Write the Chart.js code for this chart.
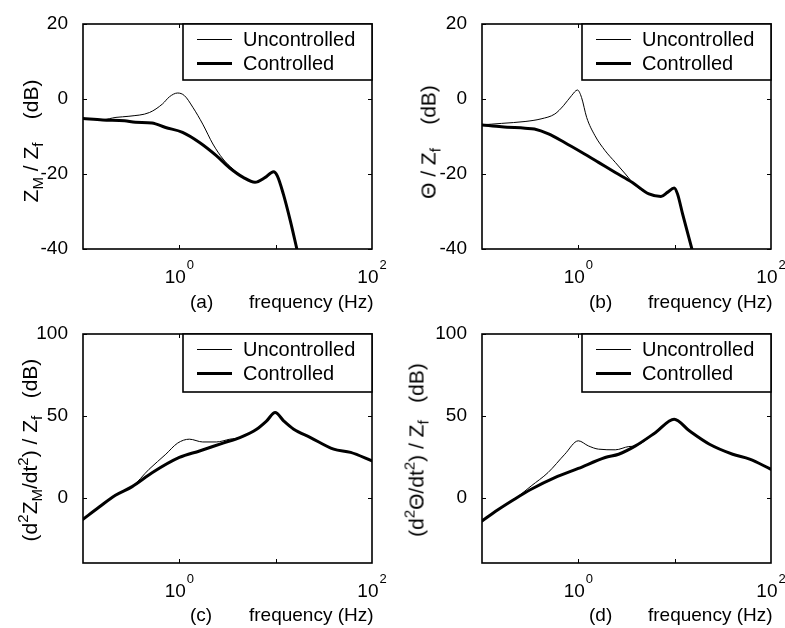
<!DOCTYPE html>
<html>
<head>
<meta charset="utf-8">
<script src="https://cdn.jsdelivr.net/npm/chart.js@4.4.1/dist/chart.umd.min.js"></script>
<style>
  body { margin: 0; background: #fff; }
  #fig { position: relative; width: 785px; height: 628px; overflow: hidden; font-family: "Liberation Sans", Arial, sans-serif; color: #000; }
  canvas { position: absolute; }
  .ylab { position: absolute; white-space: pre; font-size: 21px; line-height: 21px; transform: translate(-50%, -50%) rotate(-90deg); }
  .ylab sub { font-size: 15px; line-height: 0; vertical-align: -5px; }
  .ylab sup { font-size: 15px; line-height: 0; vertical-align: 9px; }
  .xlab { position: absolute; white-space: pre; font-size: 19px; line-height: 19px; }
</style>
</head>
<body>
<div id="fig">
  <canvas id="ca" width="392" height="314" style="left:0;top:0"></canvas>
  <canvas id="cb" width="393" height="314" style="left:392px;top:0"></canvas>
  <canvas id="cc" width="392" height="314" style="left:0;top:314px"></canvas>
  <canvas id="cd" width="393" height="314" style="left:392px;top:314px"></canvas>

  <div class="ylab" style="left:30px;top:141px">Z<sub>M</sub> / Z<sub>f</sub>    (dB)</div>
  <div class="ylab" style="left:428px;top:142px">Θ / Z<sub>f</sub>    (dB)</div>
  <div class="ylab" style="left:29px;top:450px">(d<sup>2</sup>Z<sub>M</sub>/dt<sup>2</sup>) / Z<sub>f</sub>   (dB)</div>
  <div class="ylab" style="left:416px;top:450px">(d<sup>2</sup>Θ/dt<sup>2</sup>) / Z<sub>f</sub>   (dB)</div>

  <div class="xlab" style="left:190px;top:292px">(a)</div>
  <div class="xlab" style="left:249px;top:292px">frequency (Hz)</div>
  <div class="xlab" style="left:589px;top:292px">(b)</div>
  <div class="xlab" style="left:648px;top:292px">frequency (Hz)</div>
  <div class="xlab" style="left:190px;top:605px">(c)</div>
  <div class="xlab" style="left:249px;top:605px">frequency (Hz)</div>
  <div class="xlab" style="left:589px;top:605px">(d)</div>
  <div class="xlab" style="left:648px;top:605px">frequency (Hz)</div>
</div>
<script>
// frequency axis, Hz (log)
const xMin = 0.1, xMax = 100;
const xTickMarks = [1, 10];
const xTickLabelValues = [1, 100];
const xTickLabelExps = ['0', '2'];

const yTicksTop = [-40, -20, 0, 20];
const yTicksBottom = [0, 50, 100];

const seriesNames = ['Uncontrolled', 'Controlled'];

// (a) Z_M / Z_f
const aUncFreq = [0.1, 0.16, 0.22, 0.30, 0.49, 0.67, 0.79, 0.96, 1.13, 1.38, 1.75, 2.23, 2.84, 3.61, 4.6, 6.1, 7.8, 9.5, 10.4, 12.0, 14.2, 16.6];
const aUncDb   = [-5.2, -5.5, -4.9, -4.6, -3.6, -1.3, 0.6, 1.6, 0.9, -2.2, -6.7, -12.0, -16.0, -18.7, -20.9, -22.2, -20.9, -19.4, -20.5, -25.3, -32.5, -40];
const aCtlFreq = [0.1, 0.16, 0.27, 0.35, 0.52, 0.72, 1.08, 1.62, 2.42, 3.34, 4.6, 6.1, 7.8, 9.5, 10.4, 12.0, 14.2, 16.6];
const aCtlDb   = [-5.2, -5.6, -5.8, -6.2, -6.4, -7.6, -8.9, -11.6, -15.1, -18.4, -20.9, -22.2, -20.9, -19.4, -20.5, -25.3, -32.5, -40];

// (b) Theta / Z_f
const bUncFreq = [0.1, 0.16, 0.28, 0.41, 0.57, 0.70, 0.85, 0.98, 1.08, 1.22, 1.49, 1.9, 2.42, 3.08, 3.92, 5.4, 7.2, 8.4, 9.9, 10.7, 12.1, 15.1];
const bUncDb   = [-6.9, -6.5, -6.0, -5.3, -4.0, -1.8, 0.9, 2.4, 0.4, -4.9, -9.8, -13.8, -16.9, -20.0, -23.1, -25.3, -26.0, -24.9, -23.7, -25.3, -30.7, -40];
const bCtlFreq = [0.1, 0.16, 0.28, 0.35, 0.49, 0.72, 1.08, 1.62, 2.42, 3.61, 5.4, 7.2, 8.4, 9.9, 10.7, 12.1, 15.1];
const bCtlDb   = [-6.9, -7.4, -7.8, -8.0, -9.3, -11.6, -14.2, -16.9, -19.6, -22.2, -25.3, -26.0, -24.9, -23.7, -25.3, -30.7, -40];

// (c) (d2 Z_M/dt2) / Z_f
const cUncFreq = [0.1, 0.145, 0.217, 0.324, 0.485, 0.724, 0.96, 1.27, 1.75, 2.42, 3.34, 4.25, 6.34, 8.07, 9.88, 12.1, 15.4, 23, 40, 60, 100];
const cUncDb   = [-13.3, -6.1, 1.4, 6.7, 17.3, 26.5, 33.3, 35.7, 34.0, 34.0, 35.7, 36.7, 41.8, 46.9, 52.0, 46.9, 41.8, 36.7, 29.6, 27.6, 22.4];
const cCtlFreq = [0.1, 0.145, 0.217, 0.324, 0.526, 1.0, 1.62, 2.84, 4.25, 6.34, 8.07, 9.88, 12.1, 15.4, 23, 40, 60, 100];
const cCtlDb   = [-13.3, -6.1, 1.4, 6.7, 15.3, 24.5, 28.5, 33.3, 36.7, 41.8, 46.9, 52.0, 46.9, 41.8, 36.7, 29.6, 27.6, 22.4];

// (d) (d2 Theta/dt2) / Z_f
const dUncFreq = [0.1, 0.145, 0.217, 0.324, 0.485, 0.724, 1.0, 1.27, 1.62, 2.42, 3.34, 3.92, 6.34, 9.88, 14.2, 23, 40, 60, 100];
const dUncDb   = [-14.3, -7.6, -1.0, 7.1, 15.3, 26.5, 34.7, 31.6, 29.6, 29.2, 31.2, 31.6, 39.8, 47.9, 40.8, 32.6, 26.5, 23.5, 17.3];
const dCtlFreq = [0.1, 0.145, 0.217, 0.324, 0.57, 1.0, 1.9, 2.62, 3.92, 6.34, 9.88, 14.2, 23, 40, 60, 100];
const dCtlDb   = [-14.3, -7.6, -1.0, 5.1, 12.2, 17.8, 24.5, 26.5, 31.6, 39.8, 47.9, 40.8, 32.6, 26.5, 23.5, 17.3];

const FONT = '"Liberation Sans", Arial, sans-serif';

const pts = (f, db) => f.map((v, i) => ({ x: v, y: db[i] }));

// box, inward ticks, 10^n labels and legend, matlab style
const matlabAxes = {
  id: 'matlabAxes',
  afterDraw(chart, args, opts) {
    const ctx = chart.ctx, a = chart.chartArea;
    const xs = chart.scales.x, ys = chart.scales.y;
    ctx.save();
    ctx.strokeStyle = '#000';
    ctx.lineWidth = 1;
    ctx.beginPath();
    xTickMarks.forEach(v => {
      const px = Math.round(xs.getPixelForValue(v)) + 0.5;
      ctx.moveTo(px, a.bottom); ctx.lineTo(px, a.bottom - 4);
      ctx.moveTo(px, a.top); ctx.lineTo(px, a.top + 4);
    });
    opts.yTicks.forEach(v => {
      const py = Math.round(ys.getPixelForValue(v)) + 0.5;
      ctx.moveTo(a.left, py); ctx.lineTo(a.left + 4, py);
      ctx.moveTo(a.right, py); ctx.lineTo(a.right - 4, py);
    });
    ctx.stroke();

    ctx.lineWidth = 1.6;
    ctx.strokeRect(a.left, a.top, a.right - a.left, a.bottom - a.top);

    // x tick labels 10^n
    ctx.fillStyle = '#000';
    ctx.textBaseline = 'alphabetic';
    ctx.textAlign = 'left';
    xTickLabelValues.forEach((v, i) => {
      const px = xs.getPixelForValue(v);
      ctx.font = '19px ' + FONT;
      const w1 = ctx.measureText('10').width;
      ctx.font = '13px ' + FONT;
      const w2 = ctx.measureText(xTickLabelExps[i]).width;
      const x0 = px - (w1 + w2 + 1) / 2;
      ctx.font = '19px ' + FONT;
      ctx.fillText('10', x0, a.bottom + 34);
      ctx.font = '13px ' + FONT;
      ctx.fillText(xTickLabelExps[i], x0 + w1 + 1, a.bottom + 20);
    });

    // legend box in the upper right
    const lw = 189, lh = opts.legendHeight;
    const lx = a.right - lw, ly = a.top;
    ctx.fillStyle = '#fff';
    ctx.fillRect(lx, ly, lw, lh);
    ctx.lineWidth = 1.6;
    ctx.strokeRect(lx, ly, lw, lh);
    const rows = [15.5, 39.5];
    seriesNames.forEach((name, i) => {
      const ds = chart.data.datasets.find(d => d.label === name);
      const y = ly + rows[i];
      ctx.beginPath();
      ctx.lineWidth = ds.borderWidth;
      ctx.strokeStyle = ds.borderColor;
      ctx.moveTo(lx + 14, y); ctx.lineTo(lx + 49, y);
      ctx.stroke();
      ctx.fillStyle = '#000';
      ctx.font = '20px ' + FONT;
      ctx.textBaseline = 'middle';
      ctx.fillText(name, lx + 60, y + 1);
    });
    ctx.restore();
  }
};

function makePanel(canvasId, unc, ctl, yMin, yMax, yTicks, lay) {
  new Chart(document.getElementById(canvasId), {
    type: 'line',
    data: {
      datasets: [
        { label: seriesNames[0], data: unc, borderColor: '#000', borderWidth: 1, order: 1 },
        { label: seriesNames[1], data: ctl, borderColor: '#000', borderWidth: 3, order: 0 }
      ]
    },
    options: {
      responsive: false,
      animation: false,
      devicePixelRatio: 1,
      layout: { padding: { left: 0, top: lay.top, right: lay.right, bottom: 0 } },
      elements: {
        point: { radius: 0 },
        line: { cubicInterpolationMode: 'monotone', fill: false, borderCapStyle: 'round', borderJoinStyle: 'round' }
      },
      datasets: { line: { clip: 0 } },
      scales: {
        x: {
          type: 'logarithmic',
          min: xMin, max: xMax,
          grid: { display: false },
          border: { display: false },
          ticks: { display: false },
          afterFit: s => { s.height = lay.xHeight; s.paddingLeft = 0; s.paddingRight = 0; }
        },
        y: {
          type: 'linear',
          min: yMin, max: yMax,
          grid: { display: false },
          border: { display: false },
          afterBuildTicks: s => { s.ticks = yTicks.map(v => ({ value: v })); },
          afterFit: s => { s.width = lay.yWidth; s.paddingTop = 0; s.paddingBottom = 0; },
          ticks: {
            autoSkip: false,
            color: '#000',
            padding: 7,
            font: { family: FONT, size: 19 },
            callback: v => String(v)
          }
        }
      },
      plugins: {
        legend: { display: false },
        tooltip: { enabled: false },
        matlabAxes: { yTicks: yTicks, legendHeight: lay.legendHeight }
      }
    },
    plugins: [matlabAxes]
  });
}

makePanel('ca', pts(aUncFreq, aUncDb), pts(aCtlFreq, aCtlDb), -40, 20, yTicksTop,
  { top: 24, right: 20, yWidth: 83, xHeight: 65, legendHeight: 56 });
makePanel('cb', pts(bUncFreq, bUncDb), pts(bCtlFreq, bCtlDb), -40, 20, yTicksTop,
  { top: 24, right: 14, yWidth: 90, xHeight: 65, legendHeight: 56 });
makePanel('cc', pts(cUncFreq, cUncDb), pts(cCtlFreq, cCtlDb), -40, 100, yTicksBottom,
  { top: 20, right: 20, yWidth: 83, xHeight: 65, legendHeight: 58 });
makePanel('cd', pts(dUncFreq, dUncDb), pts(dCtlFreq, dCtlDb), -40, 100, yTicksBottom,
  { top: 20, right: 14, yWidth: 90, xHeight: 65, legendHeight: 58 });
</script>
</body>
</html>
